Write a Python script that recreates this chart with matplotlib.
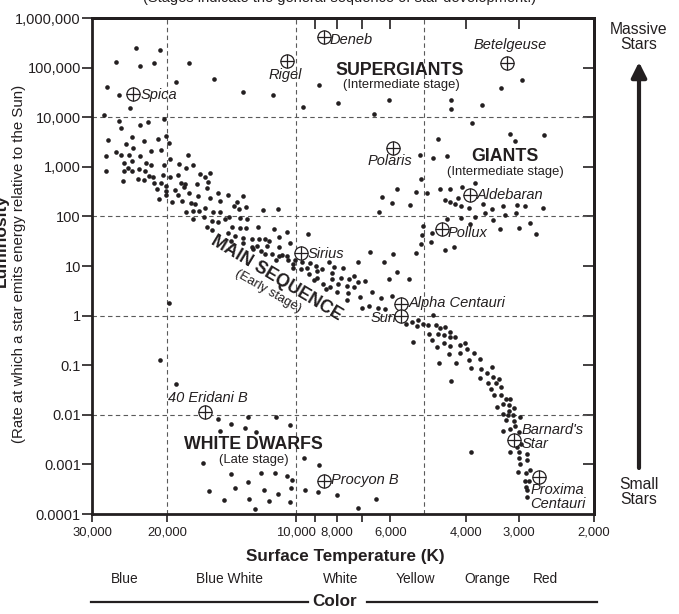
import numpy as np
import matplotlib
matplotlib.use('Agg')
import matplotlib.pyplot as plt
from matplotlib.ticker import NullFormatter
from matplotlib.lines import Line2D

plt.rcParams['font.family'] = ['Liberation Sans', 'DejaVu Sans']
ink = '#231f20'

# Star dots, stored as log10(temperature in K) and log10(luminosity in suns)
supergiant_log_t = [4.374, 4.318, 4.421, 4.365, 4.332, 4.250, 4.442, 4.414, 4.280, 4.191,
                    4.123, 4.053, 3.945, 3.983, 3.901, 3.470, 3.519, 3.636, 3.564, 3.636,
                    3.781, 3.817, 3.587]
supergiant_log_l = [5.40, 5.35, 5.11, 5.03, 5.09, 5.09, 4.61, 4.45, 4.71, 4.77,
                    4.51, 4.45, 4.65, 4.21, 4.29, 4.75, 4.59, 4.35, 4.25, 4.17,
                    4.35, 4.06, 3.88]

giant_log_t = [3.498, 3.486, 3.418, 3.667, 3.709, 3.678, 3.646, 3.706, 3.580, 3.610,
               3.639, 3.662, 3.763, 3.718, 3.692, 3.798, 3.774, 3.732, 3.805, 3.650,
               3.639, 3.620, 3.627, 3.613, 3.594, 3.561, 3.540, 3.514, 3.482, 3.463,
               3.421, 3.557, 3.510, 3.484, 3.646, 3.613, 3.580, 3.538, 3.592, 3.521,
               3.477, 3.451, 3.437, 3.702, 3.681, 3.704, 3.683, 3.706, 3.650, 3.629,
               3.718, 3.826, 3.772, 3.793, 3.763, 3.735, 3.781]
giant_log_l = [3.66, 3.52, 3.64, 3.56, 3.24, 3.18, 3.22, 2.75, 2.67, 2.59,
               2.55, 2.55, 2.55, 2.49, 2.47, 2.39, 2.27, 2.23, 2.09, 2.33,
               2.29, 2.37, 2.25, 2.21, 2.17, 2.25, 2.15, 2.21, 2.23, 2.21,
               2.17, 2.07, 2.03, 2.07, 1.95, 1.97, 1.99, 1.93, 1.85, 1.75,
               1.77, 1.87, 1.65, 1.81, 1.67, 1.63, 1.48, 1.44, 1.32, 1.38,
               1.26, 1.28, 1.24, 1.08, 0.88, 0.74, 0.74]

main_seq_log_t = [4.388, 4.449, 4.308, 4.414, 4.346, 4.365, 4.409, 4.304, 4.383, 4.440,
                  4.355, 4.322, 4.297, 4.397, 4.381, 4.339, 4.315, 4.421, 4.409, 4.390,
                  4.365, 4.252, 4.444, 4.294, 4.402, 4.383, 4.351, 4.339, 4.273, 4.308,
                  4.240, 4.393, 4.402, 4.383, 4.367, 4.353, 4.444, 4.257, 4.224, 4.201,
                  4.344, 4.334, 4.311, 4.294, 4.276, 4.212, 4.404, 4.369, 4.355, 4.332,
                  4.315, 4.304, 4.269, 4.259, 4.231, 4.205, 4.325, 4.304, 4.283, 4.262,
                  4.208, 4.250, 4.276, 4.229, 4.201, 4.182, 4.158, 4.123, 4.320, 4.304,
                  4.290, 4.266, 4.245, 4.236, 4.177, 4.137, 4.144, 4.116, 4.133, 4.212,
                  4.257, 4.240, 4.226, 4.194, 4.177, 4.077, 4.041, 4.215, 4.196, 4.240,
                  4.182, 4.156, 4.166, 4.130, 4.114, 4.208, 4.196, 4.149, 4.130, 4.116,
                  4.088, 4.051, 4.020, 4.158, 4.142, 4.123, 4.102, 4.086, 4.072, 4.062,
                  4.039, 3.971, 4.151, 4.123, 4.102, 4.091, 4.067, 4.039, 4.013, 4.100,
                  4.081, 4.072, 4.055, 4.039, 4.046, 4.032, 4.020, 4.018, 4.006, 4.002,
                  4.006, 3.985, 3.988, 3.973, 3.966, 3.952, 3.938, 3.950, 3.969, 3.957,
                  3.950, 3.922, 3.910, 3.889, 3.915, 3.915, 3.936, 3.929, 3.920, 3.901,
                  3.894, 3.875, 3.863, 3.880, 3.863, 3.854, 3.838, 3.903, 3.877, 3.880,
                  3.849, 3.821, 3.800, 3.774, 3.854, 3.845, 3.828, 3.807, 3.791, 3.742,
                  3.728, 3.714, 3.716]
main_seq_log_l = [4.19, 4.04, 3.96, 3.92, 3.90, 3.84, 3.78, 3.62, 3.60, 3.54,
                  3.52, 3.56, 3.48, 3.46, 3.38, 3.32, 3.34, 3.30, 3.24, 3.24,
                  3.22, 3.24, 3.22, 3.16, 3.08, 3.12, 3.08, 3.04, 3.06, 3.04,
                  3.04, 2.98, 2.92, 2.92, 2.96, 2.92, 2.92, 2.98, 2.86, 2.88,
                  2.82, 2.79, 2.83, 2.79, 2.83, 2.79, 2.71, 2.75, 2.73, 2.67,
                  2.67, 2.61, 2.67, 2.65, 2.65, 2.69, 2.55, 2.51, 2.53, 2.59,
                  2.57, 2.47, 2.43, 2.41, 2.37, 2.47, 2.43, 2.41, 2.35, 2.43,
                  2.29, 2.31, 2.27, 2.25, 2.31, 2.29, 2.21, 2.19, 2.15, 2.17,
                  2.09, 2.11, 2.11, 2.09, 2.09, 2.13, 2.15, 1.99, 1.91, 1.95,
                  1.89, 1.99, 1.95, 1.97, 1.95, 1.79, 1.73, 1.79, 1.77, 1.77,
                  1.79, 1.75, 1.69, 1.67, 1.60, 1.56, 1.54, 1.54, 1.54, 1.50,
                  1.58, 1.64, 1.50, 1.46, 1.38, 1.40, 1.40, 1.38, 1.46, 1.34,
                  1.30, 1.24, 1.24, 1.20, 1.12, 1.22, 1.20, 1.12, 1.04, 1.12,
                  0.96, 1.08, 0.94, 0.96, 1.06, 1.00, 0.94, 0.90, 0.84, 0.72,
                  0.76, 1.08, 0.98, 0.96, 0.86, 0.74, 0.64, 0.54, 0.58, 0.64,
                  0.76, 0.74, 0.80, 0.60, 0.58, 0.68, 0.70, 0.48, 0.46, 0.32,
                  0.38, 0.48, 0.36, 0.40, 1.08, 0.15, 0.19, 0.15, 0.13, -0.17,
                  -0.13, -0.09, -0.21]

red_dwarf_log_t = [3.702, 3.690, 3.678, 3.688, 3.671, 3.662, 3.650, 3.667, 3.653, 3.639,
                   3.627, 3.639, 3.725, 3.681, 3.653, 3.639, 3.669, 3.641, 3.615, 3.603,
                   3.599, 3.615, 3.582, 3.594, 3.568, 3.664, 3.625, 3.589, 3.566, 3.540,
                   3.552, 3.568, 3.538, 3.524, 3.550, 3.531, 3.519, 3.636, 3.543, 3.536,
                   3.519, 3.507, 3.498, 3.514, 3.528, 3.500, 3.489, 3.514, 3.500, 3.503,
                   3.491, 3.475, 3.507, 3.489, 3.514, 3.498, 3.486, 3.477, 3.482, 3.472,
                   3.498, 3.477, 3.458, 3.477, 3.458, 3.475, 3.479, 3.461, 3.451, 3.463,
                   3.454, 3.461, 3.459, 3.459, 3.589]
red_dwarf_log_l = [-0.17, -0.19, 0.01, -0.37, -0.19, -0.25, -0.23, -0.37, -0.39, -0.33,
                   -0.43, -0.43, -0.53, -0.49, -0.55, -0.61, -0.63, -0.77, -0.59, -0.55,
                   -0.67, -0.75, -0.75, -0.90, -0.88, -0.96, -0.96, -1.06, -1.08, -1.04,
                   -1.16, -1.26, -1.24, -1.28, -1.36, -1.36, -1.44, -1.32, -1.48, -1.60,
                   -1.60, -1.68, -1.68, -1.78, -1.84, -1.80, -1.86, -1.98, -1.92, -2.00,
                   -2.00, -2.04, -2.10, -2.12, -2.33, -2.29, -2.23, -2.35, -2.65, -2.59,
                   -2.75, -2.75, -2.79, -2.87, -2.91, -2.99, -3.15, -3.17, -3.11, -3.33,
                   -3.33, -3.46, -3.52, -3.66, -2.75]

white_dwarf_log_t = [4.297, 4.318, 4.280, 4.182, 4.112, 4.046, 4.177, 4.151, 4.119, 4.093,
                     4.013, 4.217, 3.980, 3.945, 4.151, 4.081, 4.048, 4.020, 4.009, 4.112,
                     4.203, 4.142, 4.074, 4.041, 4.011, 3.978, 3.948, 3.903, 4.168, 4.109,
                     4.062, 4.013, 4.095, 3.812, 3.854]
white_dwarf_log_l = [0.25, -0.90, -1.38, -2.08, -2.04, -2.04, -2.33, -2.19, -2.27, -2.35,
                     -2.21, -2.97, -2.87, -3.01, -3.19, -3.17, -3.17, -3.23, -3.31, -3.35,
                     -3.54, -3.48, -3.52, -3.60, -3.48, -3.52, -3.56, -3.62, -3.72, -3.70,
                     -3.74, -3.76, -3.90, -3.70, -3.88]

# Named stars (temperature K, luminosity in suns)
star_names = ['Spica', 'Rigel', 'Deneb', 'Betelgeuse', 'Polaris', 'Aldebaran', 'Pollux',
              'Sirius', 'Alpha Centauri', 'Sun', "Barnard's\nStar", 'Proxima\nCentauri',
              '40 Eridani B', 'Procyon B']
star_temp = [24000, 10500, 8600, 3200, 5900, 3900, 4550, 9700, 5650, 5650, 3080, 2690,
             16300, 8600]
star_lum = [3.0e4, 1.35e5, 4.2e5, 1.23e5, 2400, 270, 56, 18, 1.7, 1.0, 0.0031, 5.6e-4,
            0.0115, 4.7e-4]

# label placement: offset in pixels and alignment
label_pos = {
    'Spica': (7, -1, 'left'), 'Rigel': (-1, -14, 'center'), 'Deneb': (6, -3, 'left'),
    'Betelgeuse': (3, 18, 'center'), 'Polaris': (-4, -13, 'center'),
    'Aldebaran': (7, 0, 'left'), 'Pollux': (6, -4, 'left'), 'Sirius': (6, -1, 'left'),
    'Alpha Centauri': (7, 1, 'left'), 'Sun': (-5, -2, 'right'),
    "Barnard's\nStar": (8, 3, 'left'), 'Proxima\nCentauri': (-9, -20, 'left'),
    '40 Eridani B': (3, 14, 'center'), 'Procyon B': (7, 1, 'left'),
}

x_ticks = [30000, 20000, 10000, 8000, 6000, 4000, 3000, 2000]
x_tick_labels = ['30,000', '20,000', '10,000', '8,000', '6,000', '4,000', '3,000', '2,000']
y_ticks = [1e-4, 1e-3, 1e-2, 1e-1, 1, 10, 100, 1e3, 1e4, 1e5, 1e6]
y_tick_labels = ['0.0001', '0.001', '0.01', '0.1', '1', '10', '100', '1,000', '10,000',
                 '100,000', '1,000,000']
color_names = ['Blue', 'Blue White', 'White', 'Yellow', 'Orange', 'Red']
color_x_px = [125, 229, 341, 415, 487, 545]

W, H = 679, 614
fig = plt.figure(figsize=(W / 100, H / 100), dpi=100)
ax = fig.add_axes([92 / W, 100 / H, 502 / W, 496 / H])
ax.set_xscale('log')
ax.set_yscale('log')
ax.set_xlim(30000, 2000)
ax.set_ylim(1e-4, 1e6)

for s in ax.spines.values():
    s.set_linewidth(2)
    s.set_color(ink)

grid_kw = dict(color='#5a5a5a', lw=0.8, dashes=(4, 3), zorder=1)
for t in [20000, 10000, 5000]:
    ax.axvline(t, **grid_kw)
for l in [1e4, 1e2, 1, 1e-2]:
    ax.axhline(l, **grid_kw)

groups = [(supergiant_log_t, supergiant_log_l), (giant_log_t, giant_log_l),
          (main_seq_log_t, main_seq_log_l), (red_dwarf_log_t, red_dwarf_log_l),
          (white_dwarf_log_t, white_dwarf_log_l)]
for lt, ll in groups:
    ax.scatter(10 ** np.array(lt), 10 ** np.array(ll), s=11, color=ink, lw=0, zorder=3)

ax.plot(star_temp, star_lum, 'o', ms=9.5, mfc='white', mec=ink, mew=0.9, zorder=4)
ax.plot(star_temp, star_lum, '+', ms=9.5, mew=0.9, color=ink, zorder=5)
for name, t, l in zip(star_names, star_temp, star_lum):
    dx, dy, ha = label_pos[name]
    ax.annotate(name, (t, l), xytext=(dx, dy), textcoords='offset pixels', ha=ha,
                va='center', fontsize=10.5, style='italic', color=ink, linespacing=0.95,
                zorder=6)

# region labels
big = dict(transform=ax.transAxes, ha='center', va='center', fontsize=12.8,
           fontweight='bold', color=ink)
small = dict(transform=ax.transAxes, ha='center', va='center', fontsize=9.4, color=ink)
ax.text(0.612, 0.895, 'SUPERGIANTS', **big)
ax.text(0.616, 0.864, '(Intermediate stage)', **small)
ax.text(0.823, 0.720, 'GIANTS', **big)
ax.text(0.823, 0.689, '(Intermediate stage)', **small)
ax.text(0.321, 0.141, 'WHITE DWARFS', **big)
ax.text(0.323, 0.108, '(Late stage)', **small)
ax.text(0.367, 0.476, 'MAIN SEQUENCE', rotation=-31, rotation_mode='anchor', **big)
ax.text(0.351, 0.449, '(Early stage)', rotation=-30, rotation_mode='anchor', **small)

# ticks
ax.minorticks_off()
ax.set_xticks(x_ticks, x_tick_labels)
ax.set_xticks([9000, 7000], minor=True)
ax.xaxis.set_minor_formatter(NullFormatter())
ax.tick_params(axis='x', which='both', direction='out', length=6, width=1.2,
               labelsize=9.4, pad=3, colors=ink)
ax.set_yticks(y_ticks, y_tick_labels)
ax.tick_params(axis='y', direction='out', length=7, width=1.2, labelsize=10.5, pad=1,
               colors=ink)

top = ax.secondary_xaxis('top')
top.minorticks_off()
top.set_xticks([9000, 8000, 7000, 6000, 4000, 3000], [''] * 6)
top.tick_params(direction='in', length=8, width=1.2, colors=ink)
top.spines['top'].set_linewidth(2)

right = ax.secondary_yaxis('right')
right.minorticks_off()
right.set_yticks(y_ticks[1:-1], [''] * 9)
right.tick_params(direction='in', length=8, width=1.2, colors=ink)
right.spines['right'].set_linewidth(2)

# figure texts
fig.text(340 / W, 1 + 2 / H, '(Stages indicate the general sequence of star development.)',
         ha='center', va='center', fontsize=10.5, color=ink)
fig.text(1 / W, 1 - 241 / H, 'Luminosity', rotation=90, ha='center', va='center',
         fontsize=12.5, fontweight='bold', color=ink)
fig.text(19 / W, 1 - 264 / H, '(Rate at which a star emits energy relative to the Sun)',
         rotation=90, ha='center', va='center', fontsize=10.8, color=ink)
fig.text(345 / W, 1 - 557 / H, 'Surface Temperature (K)', ha='center', va='center',
         fontsize=12.3, fontweight='bold', color=ink)
for name, xp in zip(color_names, color_x_px):
    fig.text(xp / W, 1 - 579 / H, name, ha='center', va='center', fontsize=9.9, color=ink)
fig.text(335 / W, 1 - 601 / H, 'Color', ha='center', va='center', fontsize=12.3,
         fontweight='bold', color=ink)
yl = 1 - 602 / H
fig.add_artist(Line2D([91 / W, 308 / W], [yl, yl], color=ink, lw=1.6))
fig.add_artist(Line2D([367 / W, 597 / W], [yl, yl], color=ink, lw=1.6))

fig.text(639 / W, 1 - 37 / H, 'Massive\nStars', ha='center', va='center', fontsize=11.3,
         color=ink, linespacing=1.05)
fig.text(639 / W, 1 - 492 / H, 'Small\nStars', ha='center', va='center', fontsize=11.3,
         color=ink, linespacing=1.05)
ax.annotate('', xy=(639 / W, 1 - 62 / H), xytext=(639 / W, 1 - 468 / H),
            xycoords='figure fraction', textcoords='figure fraction',
            arrowprops=dict(arrowstyle='-|>,head_width=0.45,head_length=0.9', lw=3,
                            color=ink, shrinkA=0, shrinkB=0))

fig.savefig('out.png', dpi=100)
